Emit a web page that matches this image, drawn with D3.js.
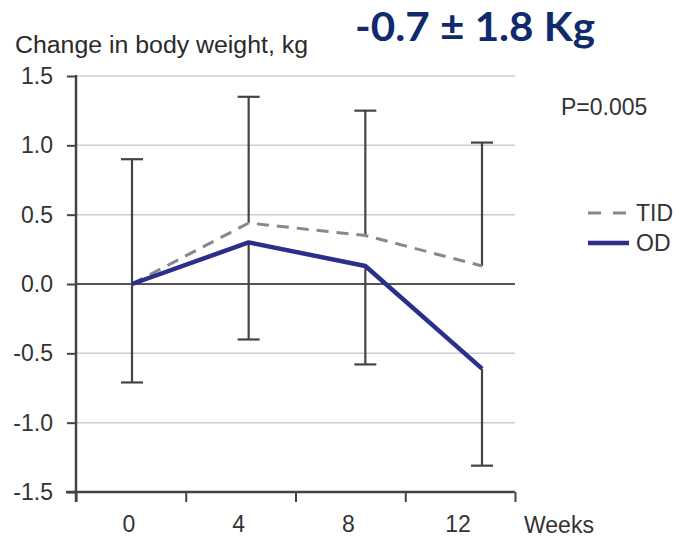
<!DOCTYPE html>
<html lang="en">
<head>
    <meta charset="UTF-8">
    <title>Change in body weight</title>
    <script src="https://d3js.org/d3.v7.min.js"></script>
    <style>
        body, html { margin: 0; padding: 0; background: #fff; }
        svg { display: block; }
        .tick text { font-family: "Liberation Sans", Arial, sans-serif; fill: #333; }
    </style>
</head>
<body>
    <script>
        // Data
        const weeks = [0, 4, 8, 12];
        const weekLabels = ["0", "4", "8", "12"];
        const tidMean = [0, 0.44, 0.35, 0.13];
        const tidUpper = [0.9, 1.35, 1.25, 1.02];
        const odMean = [0, 0.3, 0.13, -0.61];
        const odLower = [-0.71, -0.4, -0.58, -1.31];
        const yTicks = [-1.5, -1.0, -0.5, 0.0, 0.5, 1.0, 1.5];

        const width = 676, height = 538;
        const plotLeft = 76, plotRight = 515, plotTop = 76, plotBottom = 492;

        const svg = d3.select("body").append("svg")
            .attr("width", width)
            .attr("height", height);

        const y = d3.scaleLinear().domain([-1.5, 1.5]).range([plotBottom, plotTop]);
        // points sit a little off the label bands, as in the source figure
        const x = d3.scaleLinear().domain([0, 12]).range([132, 482]);
        const band = d3.scaleBand().domain(weekLabels).range([plotLeft, plotRight]);
        const bounds = d3.scaleLinear().domain([0, weekLabels.length]).range([plotLeft, plotRight]);

        // gridlines
        svg.append("g")
            .selectAll("line")
            .data(yTicks.filter(d => d !== -1.5))
            .enter().append("line")
            .attr("x1", plotLeft).attr("x2", plotRight)
            .attr("y1", d => y(d)).attr("y2", d => y(d))
            .attr("stroke", d => d === 0 ? "#555" : "#ccc")
            .attr("stroke-width", d => d === 0 ? 2.2 : 1.5);

        // y axis (plain hyphen for negatives, like the source)
        const fmt = d => d3.format(".1f")(d).replace("\u2212", "-");
        const yAxis = svg.append("g")
            .attr("transform", `translate(${plotLeft},0)`)
            .call(d3.axisLeft(y).tickValues(yTicks).tickSize(9).tickPadding(14).tickFormat(fmt));
        yAxis.select(".domain").remove();
        yAxis.selectAll(".tick line").attr("stroke", "#444").attr("stroke-width", 2);
        yAxis.selectAll(".tick text").attr("font-size", 23);
        svg.append("line")
            .attr("x1", plotLeft).attr("x2", plotLeft)
            .attr("y1", plotTop - 1).attr("y2", plotBottom + 10)
            .attr("stroke", "#444").attr("stroke-width", 2.5);

        // x axis: ticks at band boundaries, labels in band centres
        const xTicks = svg.append("g")
            .attr("transform", `translate(0,${plotBottom})`)
            .call(d3.axisBottom(bounds).ticks(4).tickSize(10).tickFormat(""));
        xTicks.select(".domain").remove();
        xTicks.selectAll(".tick line").attr("stroke", "#444").attr("stroke-width", 2);
        svg.append("line")
            .attr("x1", plotLeft - 10).attr("x2", plotRight)
            .attr("y1", plotBottom).attr("y2", plotBottom)
            .attr("stroke", "#444").attr("stroke-width", 2.5);

        const xLabels = svg.append("g")
            .attr("transform", `translate(-2,${plotBottom})`)
            .call(d3.axisBottom(band).tickSize(0).tickPadding(24));
        xLabels.select(".domain").remove();
        xLabels.selectAll(".tick text").attr("font-size", 23);

        svg.append("text")
            .attr("x", 524).attr("y", 533)
            .attr("font-family", "Liberation Sans, Arial, sans-serif")
            .attr("font-size", 23).attr("fill", "#333")
            .text("Weeks");

        // axis title
        svg.append("text")
            .attr("x", 15).attr("y", 53)
            .attr("font-family", "Liberation Sans, Arial, sans-serif")
            .attr("font-size", 23).attr("fill", "#2a2a2a")
            .attr("textLength", 293).attr("lengthAdjust", "spacingAndGlyphs")
            .text("Change in body weight, kg");

        // error bars (TID upward, OD downward)
        const bars = weeks.map((w, i) => ({ w, tm: tidMean[i], tu: tidUpper[i], om: odMean[i], ol: odLower[i] }));
        const eb = svg.append("g").attr("stroke", "#444").attr("stroke-width", 2.2);
        bars.forEach(d => {
            eb.append("line").attr("x1", x(d.w)).attr("x2", x(d.w)).attr("y1", y(d.tu)).attr("y2", y(d.tm));
            eb.append("line").attr("x1", x(d.w) - 11).attr("x2", x(d.w) + 11).attr("y1", y(d.tu)).attr("y2", y(d.tu));
            eb.append("line").attr("x1", x(d.w)).attr("x2", x(d.w)).attr("y1", y(d.om)).attr("y2", y(d.ol));
            eb.append("line").attr("x1", x(d.w) - 11).attr("x2", x(d.w) + 11).attr("y1", y(d.ol)).attr("y2", y(d.ol));
        });

        const line = d3.line().x((d, i) => x(weeks[i])).y(d => y(d));

        svg.append("path")
            .attr("d", line(tidMean))
            .attr("fill", "none")
            .attr("stroke", "#888")
            .attr("stroke-width", 3)
            .attr("stroke-dasharray", "12,8");

        svg.append("path")
            .attr("d", line(odMean))
            .attr("fill", "none")
            .attr("stroke", "#2b2f8c")
            .attr("stroke-width", 4.5)
            .attr("stroke-linejoin", "round");

        // legend
        const legend = svg.append("g").attr("font-family", "Liberation Sans, Arial, sans-serif")
            .attr("font-size", 23).attr("fill", "#333");
        legend.append("line").attr("x1", 588).attr("x2", 629).attr("y1", 213).attr("y2", 213)
            .attr("stroke", "#888").attr("stroke-width", 3).attr("stroke-dasharray", "13,12");
        legend.append("text").attr("x", 636).attr("y", 221).text("TID");
        legend.append("line").attr("x1", 588).attr("x2", 629).attr("y1", 243).attr("y2", 243)
            .attr("stroke", "#2b2f8c").attr("stroke-width", 4.5);
        legend.append("text").attr("x", 636).attr("y", 251).text("OD");

        svg.append("text")
            .attr("x", 561).attr("y", 115)
            .attr("font-family", "Liberation Sans, Arial, sans-serif")
            .attr("font-size", 23).attr("fill", "#333")
            .text("P=0.005");

        // headline
        svg.append("text")
            .attr("x", 355).attr("y", 41)
            .attr("font-family", "Lato, 'Open Sans', sans-serif")
            .attr("font-weight", "bold")
            .attr("font-size", 40).attr("fill", "#102a6e")
            .attr("textLength", 240).attr("lengthAdjust", "spacingAndGlyphs")
            .text("-0.7 \u00b1 1.8 Kg");
    </script>
</body>
</html>
